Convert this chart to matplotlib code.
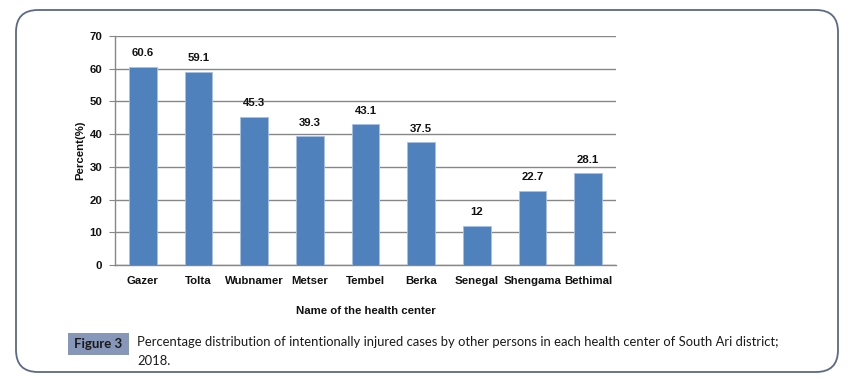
import matplotlib
matplotlib.use("Agg")
import matplotlib.pyplot as plt
from matplotlib.patches import FancyBboxPatch, Rectangle

# data
centers = ['Gazer', 'Tolta', 'Wubnamer', 'Metser', 'Tembel', 'Berka',
           'Senegal', 'Shengama', 'Bethimal']
percent = [60.6, 59.1, 45.3, 39.3, 43.1, 37.5, 12, 22.7, 28.1]
value_labels = ['60.6', '59.1', '45.3', '39.3', '43.1', '37.5', '12', '22.7', '28.1']
yticks = [0, 10, 20, 30, 40, 50, 60, 70]

W, H = 854, 381
fig = plt.figure(figsize=(W / 100, H / 100), dpi=100)

# background card in pixel coordinates
bg = fig.add_axes([0, 0, 1, 1])
bg.set_xlim(0, W)
bg.set_ylim(H, 0)
bg.axis('off')
card = FancyBboxPatch((16 + 22, 10 + 22), 822 - 44, 362 - 44,
                      boxstyle='round,pad=22', facecolor='white',
                      edgecolor='#5b6984', linewidth=1.3)
bg.add_patch(card)
bg.add_patch(Rectangle((68, 333), 61, 22, facecolor='#8797b9', edgecolor='none'))
bg.text(98.5, 344.5, 'Figure 3', ha='center', va='center', fontsize=9.5,
        fontweight='bold', family='Lato', color='#1a1a1a')
bg.text(137, 342, 'Percentage distribution of intentionally injured cases by other persons '
        'in each health center of South Ari district;',
        ha='left', va='center', fontsize=9.4, family='Lato', color='#1a1a1a')
bg.text(137, 361, '2018.', ha='left', va='center', fontsize=9.4, family='Lato',
        color='#1a1a1a')

font = ['Liberation Sans Narrow', 'Liberation Sans', 'DejaVu Sans']
fs = 8.2

ax = fig.add_axes([115 / W, 1 - 265 / H, (616 - 115) / W, (265 - 36) / H])
ax.set_facecolor('none')
x = range(len(centers))
bars = ax.bar(x, percent, width=0.5, color='#4f81bd', edgecolor='#a9c0e2',
              linewidth=0.6, zorder=3)
for xi, v, lab in zip(x, percent, value_labels):
    ax.annotate(lab, (xi, v), xytext=(0, 6), textcoords='offset points',
                ha='center', va='bottom', fontsize=fs, fontweight='bold',
                family=font, color='#111111')

ax.set_xlim(-0.5, len(centers) - 0.5)
ax.set_ylim(0, 70)
ax.set_yticks(yticks)
ax.set_xticks(list(x))
ax.set_xticklabels(centers)
ax.yaxis.grid(True, color='#878787', linewidth=1.0, zorder=0)
ax.set_axisbelow(True)
for s in ['top', 'right']:
    ax.spines[s].set_visible(False)
for s in ['left', 'bottom']:
    ax.spines[s].set_color('#878787')
    ax.spines[s].set_linewidth(1.0)
ax.tick_params(axis='y', length=4, color='#878787', pad=5)
ax.tick_params(axis='x', length=0, pad=8)
for lab in ax.get_xticklabels() + ax.get_yticklabels():
    lab.set_family(font)
    lab.set_fontweight('bold')
    lab.set_fontsize(fs)
    lab.set_color('#111111')

ax.set_ylabel('Percent(%)', family=font, fontweight='bold', fontsize=fs,
              labelpad=3, color='#111111')
ax.set_xlabel('Name of the health center', family=font, fontweight='bold',
              fontsize=fs, labelpad=14, color='#111111')

fig.savefig('out.png', dpi=100)
